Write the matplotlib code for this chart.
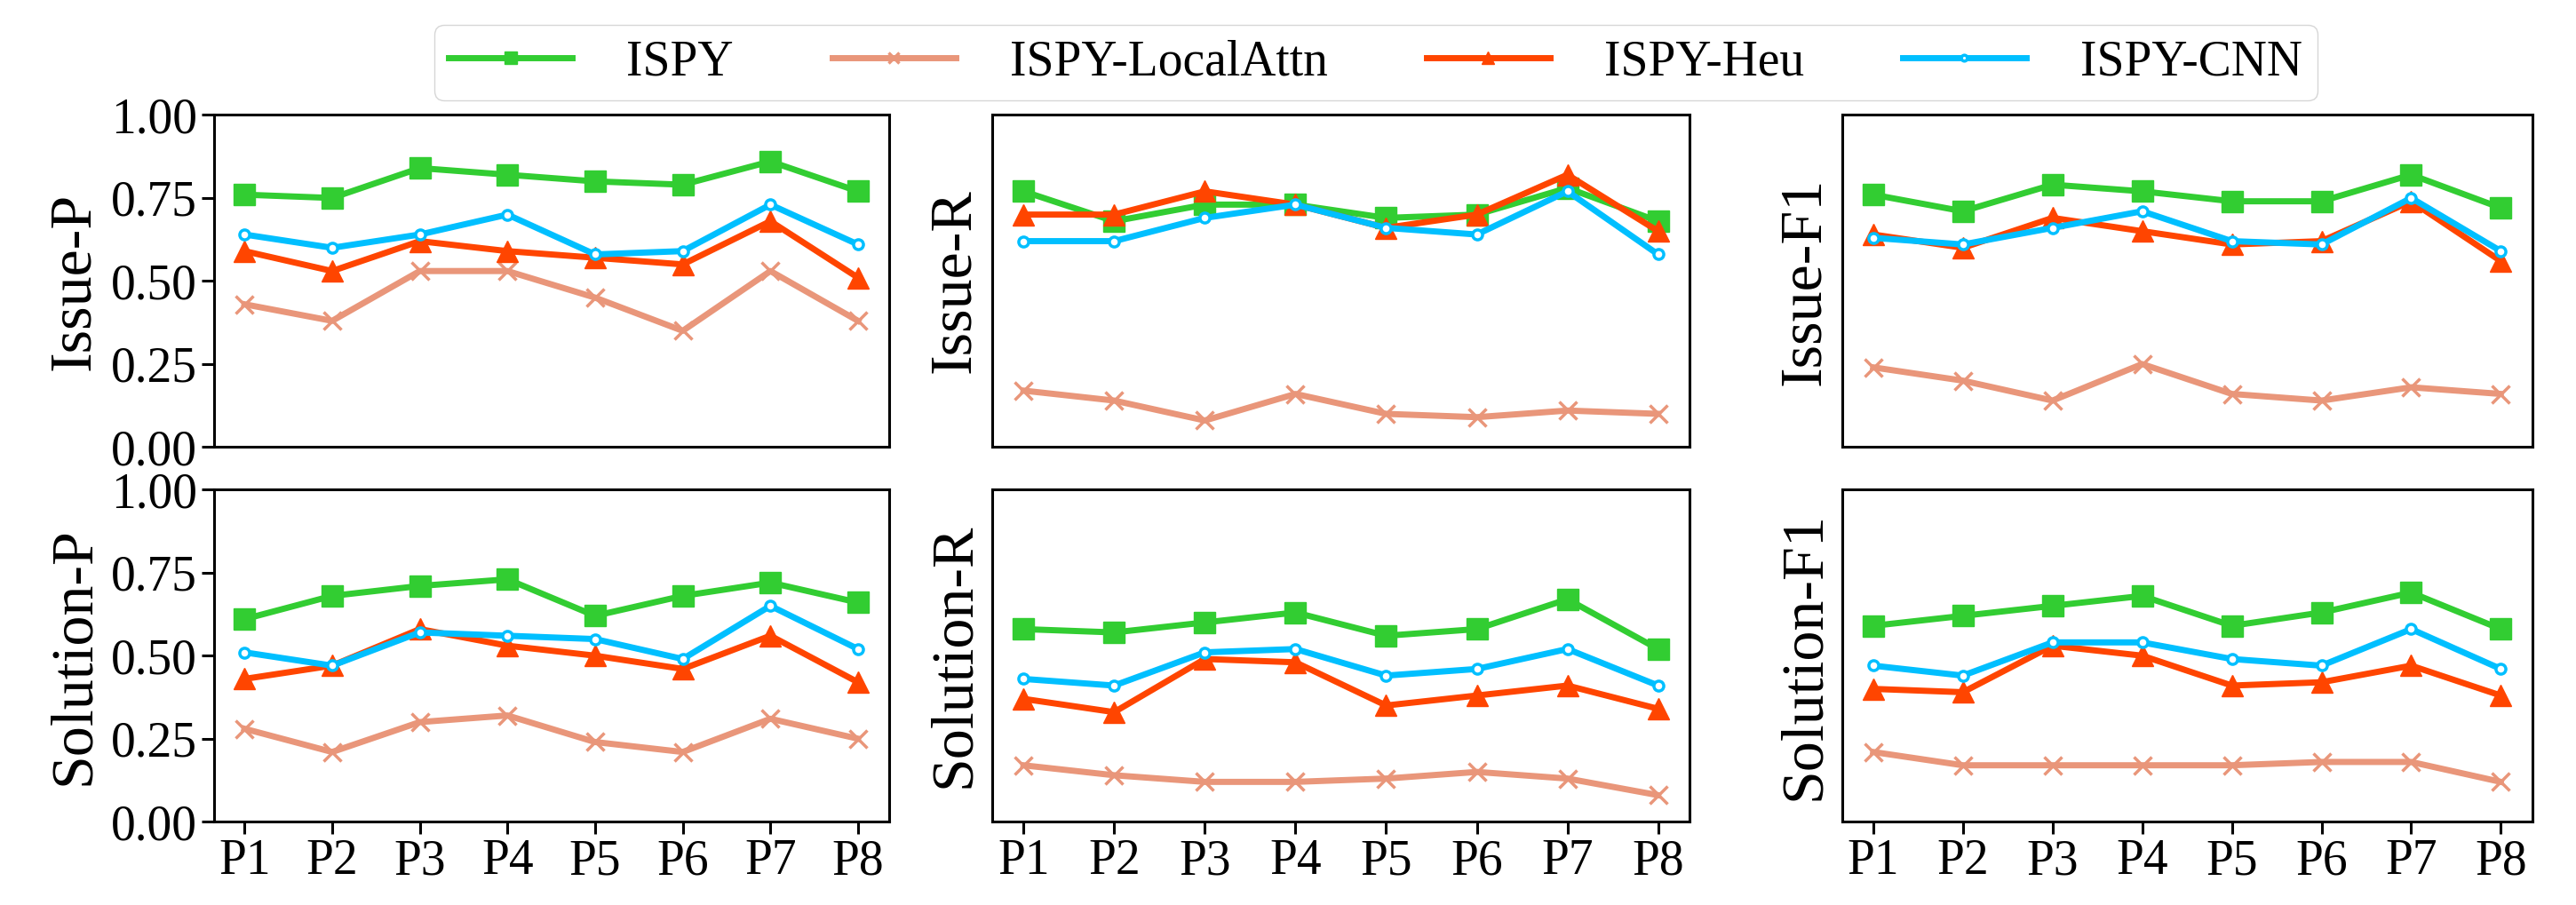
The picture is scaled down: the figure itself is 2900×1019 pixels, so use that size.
import matplotlib
matplotlib.use("Agg")
import matplotlib.pyplot as plt
import numpy as np

plt.rcParams['font.family'] = ['Liberation Serif', 'DejaVu Serif']

# projects on the x axis
projects = ["P1", "P2", "P3", "P4", "P5", "P6", "P7", "P8"]
methods = ["ISPY", "ISPY-LocalAttn", "ISPY-Heu", "ISPY-CNN"]
panel_names = ["Issue-P", "Issue-R", "Issue-F1", "Solution-P", "Solution-R", "Solution-F1"]

# values per panel
ispy = {
    "Issue-P":     [0.76, 0.75, 0.84, 0.82, 0.80, 0.79, 0.86, 0.77],
    "Issue-R":     [0.77, 0.68, 0.73, 0.73, 0.69, 0.70, 0.78, 0.68],
    "Issue-F1":    [0.76, 0.71, 0.79, 0.77, 0.74, 0.74, 0.82, 0.72],
    "Solution-P":  [0.61, 0.68, 0.71, 0.73, 0.62, 0.68, 0.72, 0.66],
    "Solution-R":  [0.58, 0.57, 0.60, 0.63, 0.56, 0.58, 0.67, 0.52],
    "Solution-F1": [0.59, 0.62, 0.65, 0.68, 0.59, 0.63, 0.69, 0.58],
}
local_attn = {
    "Issue-P":     [0.43, 0.38, 0.53, 0.53, 0.45, 0.35, 0.53, 0.38],
    "Issue-R":     [0.17, 0.14, 0.08, 0.16, 0.10, 0.09, 0.11, 0.10],
    "Issue-F1":    [0.24, 0.20, 0.14, 0.25, 0.16, 0.14, 0.18, 0.16],
    "Solution-P":  [0.28, 0.21, 0.30, 0.32, 0.24, 0.21, 0.31, 0.25],
    "Solution-R":  [0.17, 0.14, 0.12, 0.12, 0.13, 0.15, 0.13, 0.08],
    "Solution-F1": [0.21, 0.17, 0.17, 0.17, 0.17, 0.18, 0.18, 0.12],
}
heu = {
    "Issue-P":     [0.59, 0.53, 0.62, 0.59, 0.57, 0.55, 0.68, 0.51],
    "Issue-R":     [0.70, 0.70, 0.77, 0.73, 0.66, 0.70, 0.82, 0.65],
    "Issue-F1":    [0.64, 0.60, 0.69, 0.65, 0.61, 0.62, 0.74, 0.56],
    "Solution-P":  [0.43, 0.47, 0.58, 0.53, 0.50, 0.46, 0.56, 0.42],
    "Solution-R":  [0.37, 0.33, 0.49, 0.48, 0.35, 0.38, 0.41, 0.34],
    "Solution-F1": [0.40, 0.39, 0.53, 0.50, 0.41, 0.42, 0.47, 0.38],
}
cnn = {
    "Issue-P":     [0.64, 0.60, 0.64, 0.70, 0.58, 0.59, 0.73, 0.61],
    "Issue-R":     [0.62, 0.62, 0.69, 0.73, 0.66, 0.64, 0.77, 0.58],
    "Issue-F1":    [0.63, 0.61, 0.66, 0.71, 0.62, 0.61, 0.75, 0.59],
    "Solution-P":  [0.51, 0.47, 0.57, 0.56, 0.55, 0.49, 0.65, 0.52],
    "Solution-R":  [0.43, 0.41, 0.51, 0.52, 0.44, 0.46, 0.52, 0.41],
    "Solution-F1": [0.47, 0.44, 0.54, 0.54, 0.49, 0.47, 0.58, 0.46],
}
yticks = [0.00, 0.25, 0.50, 0.75, 1.00]

# one style per method (colour, marker, marker size)
styles = [
    (ispy, "limegreen", "s", 17, {}),
    (local_attn, "darksalmon", "x", 14, {"markeredgewidth": 2.5}),
    (heu, "orangered", "^", 17, {}),
    (cnn, "deepskyblue", "o", 8, {"markerfacecolor": "white", "markeredgewidth": 2.5}),
]

fig = plt.figure(figsize=(29, 10.19), dpi=100)

col_left = [0.083, 0.385, 0.715]
col_width = [0.262, 0.271, 0.268]
row_bottom = [0.506, 0.092]
row_height = 0.367

x = np.arange(len(projects))
handles = []
for i, name in enumerate(panel_names):
    r, c = divmod(i, 3)
    ax = fig.add_axes([col_left[c], row_bottom[r], col_width[c], row_height])
    for (data, color, marker, ms, extra), label in zip(styles, methods):
        ln, = ax.plot(x, data[name], color=color, marker=marker, markersize=ms,
                      linewidth=5, label=label, **extra)
        if i == 0:
            handles.append(ln)
    ax.set_ylim(0, 1)
    ax.set_yticks(yticks)
    ax.set_xticks(x)
    ax.set_xticklabels(projects)
    ax.set_ylabel(name, fontsize=49, labelpad=8)
    for sp in ax.spines.values():
        sp.set_linewidth(2.2)
    ax.tick_params(axis="both", labelsize=40, width=2.2, length=10)
    if c == 0:
        ax.set_yticklabels(["%.2f" % v for v in yticks])
    else:
        ax.tick_params(axis="y", left=False, labelleft=False)
    if r == 0:
        ax.tick_params(axis="x", bottom=False, labelbottom=False)

fig.legend(handles, methods, loc="upper center", bbox_to_anchor=(0.534, 1.0),
           ncol=4, fontsize=40, markerscale=0.6, handlelength=2.5,
           columnspacing=2.0, handletextpad=1.1, frameon=True, fancybox=True,
           edgecolor="#cccccc", borderpad=0.3)

fig.savefig("out.png", dpi=100)
